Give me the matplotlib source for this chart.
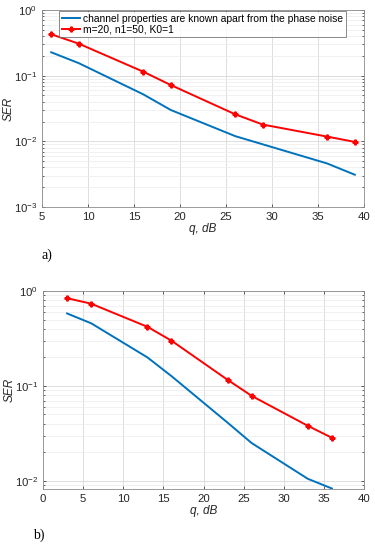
import matplotlib
matplotlib.use("Agg")
import matplotlib.pyplot as plt
from matplotlib.ticker import LogLocator, NullFormatter

# panel a)
qa_blue = [6, 9, 16, 19, 26, 29, 36, 39]
ser_a_blue = [0.227, 0.155, 0.052, 0.030, 0.012, 0.0090, 0.0046, 0.0031]
qa_red = [6, 9, 16, 19, 26, 29, 36, 39]
ser_a_red = [0.427, 0.307, 0.115, 0.072, 0.0258, 0.018, 0.0118, 0.0098]

# panel b)
qb_blue = [3, 6, 13, 16, 23, 26, 33, 36]
ser_b_blue = [0.58, 0.457, 0.20, 0.127, 0.041, 0.025, 0.0105, 0.0083]
qb_red = [3, 6, 13, 16, 23, 26, 33, 36]
ser_b_red = [0.84, 0.735, 0.42, 0.30, 0.116, 0.0785, 0.038, 0.0284]

legend_labels = ["channel properties are known apart from the phase noise",
                 "m=20, n1=50, K0=1"]

blue = "#0072BD"
red = "#FF0000"
txt = "#262626"

plt.rcParams["font.family"] = ["Liberation Sans", "DejaVu Sans"]

fig = plt.figure(figsize=(3.75, 5.5), dpi=100)
W, H = 375.0, 550.0
ax1 = fig.add_axes([42 / W, 1 - 207 / H, 322 / W, 197 / H])
ax2 = fig.add_axes([43 / W, 1 - 489 / H, 321 / W, 198 / H])


def style(ax):
    ax.set_yscale("log")
    ax.yaxis.set_major_locator(LogLocator(base=10, numticks=10))
    ax.yaxis.set_minor_locator(LogLocator(base=10, subs=range(2, 10), numticks=10))
    ax.yaxis.set_minor_formatter(NullFormatter())
    ax.grid(True, which="major", color="#d9d9d9", lw=0.6)
    ax.grid(True, which="minor", axis="y", color="#ececec", lw=0.5)
    ax.set_axisbelow(True)
    ax.tick_params(which="both", direction="in", top=True, right=True,
                   colors=txt, labelsize=8.2, length=2.5, width=0.5)
    ax.tick_params(which="minor", length=1.5)
    for s in ax.spines.values():
        s.set_color("#8c8c8c")
        s.set_linewidth(0.6)
    ax.set_xlabel("q, dB", style="italic", fontsize=8.5, color=txt, labelpad=1)
    ax.set_ylabel("SER", style="italic", fontsize=8.5, color=txt)
    ax.yaxis.set_label_coords(-0.085, 0.5)


ax1.plot(qa_blue, ser_a_blue, color=blue, lw=1.4, label=legend_labels[0])
ax1.plot(qa_red, ser_a_red, color=red, lw=1.4, marker="P", ms=3.5,
         label=legend_labels[1])
ax1.set_xlim(5, 40)
ax1.set_ylim(1e-3, 1)
style(ax1)
leg = ax1.legend(loc="upper left", bbox_to_anchor=(0.05, 1.0), fontsize=7.4,
                 frameon=True, fancybox=False, edgecolor="#555555",
                 handlelength=1.8, handletextpad=0.3, borderpad=0.25,
                 labelspacing=0.1, borderaxespad=0.1)
leg.get_frame().set_linewidth(0.6)

ax2.plot(qb_blue, ser_b_blue, color=blue, lw=1.4)
ax2.plot(qb_red, ser_b_red, color=red, lw=1.4, marker="P", ms=3.5)
ax2.set_xlim(0, 40)
ax2.set_ylim(0.0082, 1)
style(ax2)

fig.text(42 / W, 1 - 255 / H, "a)", family="Liberation Serif", fontsize=10,
         va="center", ha="left")
fig.text(33 / W, 1 - 535 / H, "b)", family="Liberation Serif", fontsize=10,
         va="center", ha="left")

fig.savefig("out.png", dpi=100)
